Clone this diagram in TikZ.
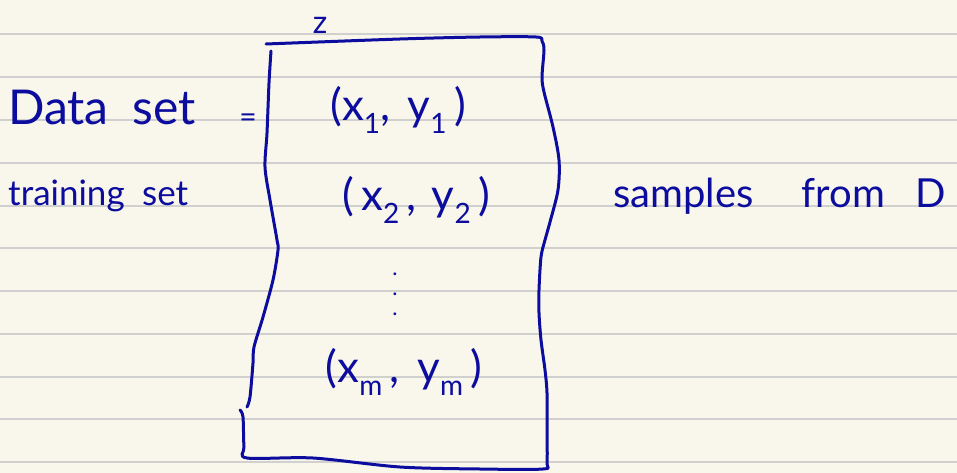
\documentclass[tikz,border=0pt]{standalone}
\usepackage{fontspec}
\setmainfont{Lato}
\definecolor{paper}{RGB}{249,247,236}
\definecolor{rule}{RGB}{208,208,206}
\definecolor{ink}{RGB}{12,12,158}
\tikzset{
  ruleline/.style={draw=rule, line width=2pt},
  inkline/.style={draw=ink, line width=3pt, line cap=round, line join=round},
  inktext/.style={text=ink, inner sep=0pt},
  pairtext/.style={inktext, font=\fontsize{44}{44}\selectfont},
}
\newcommand{\sbs}[1]{\raisebox{-0.28em}{\fontsize{28}{28}\selectfont #1}}
\begin{document}
\begin{tikzpicture}[x=1pt,y=-1pt]
\fill[paper] (0,0) rectangle (957,473);
\useasboundingbox (0,0) rectangle (957,473);
% ruled paper
\foreach \k in {0,...,10} {
  \draw[ruleline] (0,{34.5+42.75*\k}) -- (957,{34.5+42.75*\k});
}
% box outline
\draw[inkline] plot[smooth, tension=0.5] coordinates {
  (266,44) (400,39) (480,37) (536,37) (542,41) (544,50) (542,77) (544,92)
  (553,127) (559,160) (558,190) (550,222) (545,240) (541,257) (539,290)
  (539,313) (541,340) (545,370) (547,393) (547,430) (547,463) (543,469)
  (480,469) (400,467) (313,458) (247,458) (244,447) (243,417) (240,410)};
\draw[inkline] plot[smooth, tension=0.5] coordinates {
  (271,51) (269,83) (267,133) (265,167) (270,200) (277,240) (278,250)
  (273,280) (263,317) (254,347) (253,363) (250,397) (247,407)};
% texts
\node[inktext, font=\fontsize{32}{32}\selectfont] (z) at (320,25) {z};
\node[inktext, anchor=base west, font=\fontsize{48}{48}\selectfont] (data) at (8,125) {Data\hspace{0.5em}set};
\node[inktext, font=\fontsize{30}{30}\selectfont] (eq) at (248,121) {=};
\node[inktext, anchor=base west, font=\fontsize{35}{35}\selectfont] (train) at (8,205) {training\hspace{0.5em}set};
\node[pairtext] (p1) at (398,110) {(x\sbs{1},\hspace{0.4em}y\sbs{1}\,)};
\node[pairtext] (p2) at (416,200) {(\,x\sbs{2}\,,\hspace{0.35em}y\sbs{2}\,)};
\node[inktext, align=center, font=\fontsize{22}{20}\selectfont] (dots) at (395,294) {.\\.\\.};
\node[pairtext] (pm) at (404,372) {(x\sbs{m}\,,\hspace{0.4em}y\sbs{m}\,)};
\node[inktext, anchor=base west, font=\fontsize{40}{40}\selectfont] (samp) at (613,207) {samples\hspace{1.2em}from\hspace{0.75em}D};
\end{tikzpicture}
\end{document}
